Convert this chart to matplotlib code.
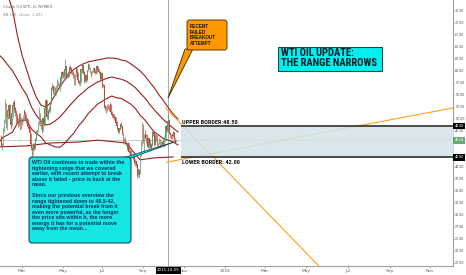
import numpy as np
import pandas as pd
import matplotlib.pyplot as plt
from matplotlib import font_manager
from matplotlib.patches import FancyBboxPatch, Polygon

### Data (daily WTI bars Jan 28 - Oct 20 2015)
holidays_2015 = ['2015-02-16', '2015-04-03', '2015-05-25', '2015-07-03', '2015-09-07']
first_open = 46.2
closes = [44.45, 44.53, 48.24,
          49.57, 53.05, 48.45, 50.48, 51.69, 52.86, 50.02, 48.84, 51.21, 52.78, 53.53, 52.14, 51.16, 50.81, 49.45, 49.25, 50.99, 48.17, 49.76,
          49.59, 50.52, 51.53, 50.76, 49.61, 50.00, 48.29, 48.17, 47.05, 44.84, 43.88, 43.46, 44.66, 43.96, 45.72, 47.45, 47.51, 49.21, 51.43, 48.87, 48.68, 47.60,
          50.09, 49.14, 52.14, 53.98, 50.42, 50.79, 51.64, 51.91, 53.29, 56.39, 56.71, 55.74, 56.38, 55.26, 56.16, 57.74, 57.15, 56.99, 57.06, 58.58, 59.63,
          59.15, 58.93, 60.40, 60.93, 58.94, 59.39, 59.25, 60.75, 60.50, 59.88, 59.69, 59.43, 57.26, 58.98, 60.72, 59.72, 58.03, 57.51, 57.68, 60.30,
          60.20, 61.26, 59.64, 58.00, 59.13, 58.14, 60.14, 61.43, 60.77, 59.96, 59.52, 59.97, 60.45, 60.45, 59.61, 59.68, 61.01, 60.27, 59.70, 59.63, 58.33, 59.47,
          56.96, 56.93, 52.53, 52.33, 51.65, 52.78, 52.74, 52.20, 53.04, 51.41, 50.91, 50.89, 50.15, 50.36, 49.19, 48.45, 48.14, 47.39, 47.98, 48.79, 48.52, 47.12,
          45.17, 45.74, 45.15, 44.66, 43.87, 44.96, 43.08, 43.30, 42.23, 42.50, 41.87, 42.62, 40.80, 41.14, 40.45, 38.24, 39.31, 38.60, 42.56, 45.22, 49.20,
          45.41, 46.25, 46.75, 46.05, 45.94, 44.15, 45.92, 44.63, 44.00, 44.59, 47.15, 46.90, 44.68, 46.68, 46.66, 44.48, 44.91, 45.70, 44.43, 45.23, 45.09,
          44.74, 45.54, 46.26, 48.53, 47.81, 49.43, 49.63, 47.10, 46.66, 46.64, 46.38, 47.26, 45.89, 45.54]
highs = [46.7, 44.9, 48.3,
         49.9, 54.2, 53.4, 51.3, 52.5, 53.2, 53.1, 50.2, 51.7, 53.2, 53.9, 53.9, 52.4, 51.8, 51.0, 50.2, 51.3, 51.2, 50.5,
         50.2, 50.9, 52.0, 51.6, 51.0, 50.5, 50.0, 48.8, 48.2, 47.1, 45.0, 44.3, 44.9, 45.0, 46.0, 47.8, 48.0, 49.5, 52.5, 51.3, 49.6, 48.8,
         50.5, 51.0, 52.5, 54.2, 54.0, 51.3, 52.0, 52.8, 53.6, 56.6, 57.4, 57.1, 56.8, 56.7, 57.0, 58.4, 58.0, 57.6, 57.4, 58.8, 59.9,
         59.9, 59.7, 60.6, 62.6, 61.0, 59.6, 59.9, 61.0, 61.2, 60.6, 60.3, 60.0, 59.6, 59.3, 60.8, 60.7, 59.8, 58.1, 58.0, 60.4,
         60.8, 61.6, 61.3, 60.0, 59.3, 59.2, 60.3, 61.6, 61.4, 60.8, 59.9, 60.3, 60.7, 60.8, 60.4, 60.3, 61.2, 61.0, 60.4, 60.0, 59.6, 59.7,
         59.4, 57.3, 56.5, 53.0, 52.7, 53.2, 53.2, 53.0, 53.5, 53.2, 51.6, 51.0, 51.0, 50.6, 50.4, 49.5, 48.7, 48.1, 48.2, 49.0, 49.3, 48.6,
         47.2, 46.0, 46.3, 45.4, 44.9, 45.2, 45.0, 43.6, 43.5, 42.8, 42.6, 42.9, 42.8, 41.6, 41.3, 40.4, 39.8, 39.5, 42.9, 45.5, 49.3,
         49.0, 46.8, 48.0, 46.8, 46.9, 46.3, 46.0, 45.9, 44.8, 44.9, 47.5, 47.6, 47.0, 46.9, 46.9, 46.7, 45.3, 46.1, 45.8, 45.5, 45.5,
         45.3, 45.7, 46.6, 48.8, 49.0, 49.6, 50.9, 49.5, 47.2, 46.9, 47.1, 47.5, 47.1, 46.1]
lows = [44.3, 43.6, 44.4,
        47.3, 49.1, 48.1, 47.8, 50.1, 51.1, 49.6, 48.0, 48.6, 50.5, 52.0, 51.5, 50.6, 48.8, 49.1, 48.4, 48.5, 47.7, 47.9,
        48.8, 49.4, 50.0, 50.2, 49.1, 49.0, 48.0, 47.4, 46.7, 44.5, 43.6, 42.0, 42.4, 43.5, 43.8, 45.6, 46.9, 47.3, 48.7, 48.5, 48.0, 47.1,
        47.6, 48.6, 49.0, 51.5, 50.1, 49.8, 50.1, 51.2, 51.5, 53.1, 56.1, 55.3, 55.3, 55.0, 55.0, 56.0, 56.9, 56.5, 55.9, 56.9, 58.4,
        58.6, 58.5, 58.7, 60.2, 58.6, 58.5, 58.7, 58.8, 60.0, 59.4, 59.2, 58.5, 57.1, 57.0, 58.7, 59.4, 57.5, 57.1, 56.9, 57.6,
        59.6, 59.8, 59.4, 57.4, 57.8, 57.8, 58.0, 60.1, 60.4, 59.6, 58.7, 59.3, 59.8, 59.9, 59.4, 59.3, 59.6, 59.9, 59.4, 59.3, 57.9, 58.2,
        56.5, 56.6, 52.3, 51.9, 51.2, 51.6, 52.1, 51.6, 51.4, 51.0, 50.5, 50.2, 49.8, 49.5, 49.0, 48.1, 47.7, 47.1, 47.0, 47.8, 48.2, 46.7,
        44.9, 44.8, 44.8, 44.3, 43.5, 43.6, 42.9, 42.0, 42.0, 41.9, 41.4, 41.6, 40.6, 40.2, 39.9, 37.75, 38.0, 38.0, 38.5, 42.3, 44.3,
        44.9, 43.2, 45.8, 45.0, 45.0, 44.0, 43.7, 44.2, 43.8, 43.6, 44.3, 46.5, 44.4, 44.6, 45.4, 44.3, 43.9, 44.7, 44.2, 44.1, 44.6,
        44.4, 44.2, 45.2, 46.1, 47.2, 47.3, 49.0, 46.8, 46.0, 45.9, 45.9, 46.3, 45.6, 45.1]

# Bollinger bands, read every 5 bars (bar 0 = 2015-03-02)
band_bars = list(range(-25, 170, 5))
bb_upper = [82.0, 78.8, 75.8, 72.7, 67.5, 63.3, 60.2, 57.1, 54.6, 52.9, 52.5, 53.3, 55.0, 56.7, 58.1, 59.4, 60.4, 61.0, 61.5, 61.9,
            62.1, 62.3, 62.5, 62.7, 62.7, 62.6, 62.3, 62.1, 61.5, 60.8, 60.0, 59.0, 57.7, 56.5, 55.0, 53.75, 52.3, 51.0, 50.0]
bb_basis = [63.5, 62.5, 61.25, 60.0, 58.3, 56.5, 55.0, 52.5, 50.8, 49.6, 48.75, 48.95, 49.6, 50.4, 51.5, 52.7, 53.75, 54.8, 55.6, 56.5,
            57.1, 57.7, 58.1, 58.5, 58.75, 58.5, 58.3, 57.9, 57.3, 56.5, 55.4, 54.4, 53.1, 51.9, 50.8, 49.8, 48.95, 48.1, 47.3]
bb_lower = [45.0, 46.2, 46.7, 47.3, 49.1, 49.7, 49.8, 47.9, 47.0, 46.3, 45.0, 44.6, 44.2, 44.1, 44.9, 46.0, 47.1, 48.6, 49.7, 51.1,
            52.1, 53.1, 53.7, 54.3, 54.8, 54.4, 54.3, 53.7, 53.1, 52.2, 50.8, 49.8, 48.5, 47.3, 46.6, 45.85, 45.6, 45.2, 44.6]
extra_bars = [-23, 5, 30, 60, 80, 110, 125, 140, 160]
extra_line = [44.2, 44.4, 45.0, 45.2, 45.6, 45.0, 41.5, 41.9, 42.1]

upper_border = 48.50
lower_border = 42.00
last_price = 45.54
range_start = '2015-10-28'
fall_line = [('2015-10-06', 52.3), ('2016-05-20', 19.2)]
rise_line = [('2015-10-07', 41.0), ('2016-12-05', 52.3)]
crosshair_date = '2015-10-09'

month_ticks = ['2015-03-02', '2015-05-01', '2015-07-01', '2015-09-01', '2015-11-02', '2016-01-01',
               '2016-03-01', '2016-05-02', '2016-07-01', '2016-09-01', '2016-11-01']
month_labels = ['Mar', 'May', 'Jul', 'Sep', 'Nov', '2016', 'Mar', 'May', 'Jul', 'Sep', 'Nov']
price_ticks = np.arange(20, 72.6, 2.5)
hidden_ticks = [42.5, 45.0]   # covered by the price labels

### Fonts
names = {f.name for f in font_manager.fontManager.ttflist}
narrow = next((n for n in ['Liberation Sans Narrow', 'DejaVu Sans Condensed', 'Roboto Condensed']
               if n in names), 'DejaVu Sans')
sans = 'Liberation Sans' if 'Liberation Sans' in names else 'DejaVu Sans'

### Trading-bar axis
cal = pd.bdate_range('2015-01-28', '2016-12-30')
cal = cal[~cal.isin(pd.to_datetime(holidays_2015))]
origin = cal.get_loc(pd.Timestamp('2015-03-02'))

def bar(d):
    return cal.get_indexer([pd.Timestamp(d)])[0] - origin

### Plot
W, H = 466, 275
fig = plt.figure(figsize=(W / 100, H / 100), dpi=100)
ax = fig.add_axes([0, 9 / H, 453 / W, 266 / H])
ax.set_xlim(-23.3, 456.1)
ax.set_ylim(19.375, 74.79)

c = np.array(closes)
o = np.r_[first_open, c[:-1]]
x = np.arange(len(c)) - origin
col = np.where(c >= o, '#4f9a6a', '#c8463c')
ax.vlines(x, lows, highs, colors=col, lw=0.5, zorder=3)
ax.bar(x, np.abs(c - o) + 0.08, bottom=np.minimum(o, c), width=0.75, color=col, lw=0, zorder=3)

for band in (bb_upper, bb_basis, bb_lower):
    ax.plot(band_bars, band, color='#962020', lw=0.8, zorder=2)
ax.plot(extra_bars, extra_line, color='#962020', lw=0.8, zorder=2)

ax.axhline(last_price, color='#b9d5c2', lw=0.7, zorder=1)
ax.axvline(bar(crosshair_date), color='#9a9a9a', lw=0.6, zorder=1)

for line in (fall_line, rise_line):
    ax.plot([bar(d) for d, _ in line], [p for _, p in line], color='#ff9f1a', lw=0.8, zorder=2)

x0 = bar(range_start)
ax.fill_between([x0, 470], lower_border, upper_border, color='#d3e2e8', alpha=0.85, lw=0, zorder=4)
ax.hlines([upper_border, lower_border], x0, 470, color='#2e2e2e', lw=1.2, zorder=5)
ax.text(x0 + 1.5, upper_border + 0.35, f'UPPER BORDER:{upper_border:.2f}', fontsize=4.5, fontweight='bold',
        family=narrow, color='#1a1a1a', va='bottom', zorder=6)
ax.text(x0 + 1.5, lower_border - 0.45, f'LOWER BORDER: {lower_border:.2f}', fontsize=4.5, fontweight='bold',
        family=narrow, color='#1a1a1a', va='top', zorder=6)

# axes styling
for s in ('top', 'left'):
    ax.spines[s].set_visible(False)
for s in ('right', 'bottom'):
    ax.spines[s].set_color('#a0a0a0')
    ax.spines[s].set_linewidth(0.8)
ax.yaxis.tick_right()
ax.set_yticks(price_ticks)
ax.set_yticklabels(['' if t in hidden_ticks else f'{t:.2f}' for t in price_ticks], family=narrow)
ax.set_xticks([bar(d) for d in month_ticks])
ax.set_xticklabels(month_labels)
ax.tick_params(axis='y', labelsize=3.0, colors='#555555', length=1.0, width=0.4, pad=0.6)
ax.tick_params(axis='x', labelsize=3.2, colors='#666666', length=1.5, width=0.4, pad=1)

# price labels on the right scale
for val, fc in ((upper_border, 'black'), (last_price, '#66a877'), (lower_border, 'black')):
    ax.annotate(f'{val:.2f}', xy=(1, val), xycoords=('axes fraction', 'data'), xytext=(1.0, 0),
                textcoords='offset points', ha='left', va='center', fontsize=3.0, family=narrow, color='white',
                bbox=dict(boxstyle='square,pad=0.3', fc=fc, ec='none'), annotation_clip=False, zorder=10)
ax.annotate(crosshair_date, xy=(bar(crosshair_date), 0), xycoords=('data', 'axes fraction'), xytext=(0, -3.2),
            textcoords='offset points', ha='center', va='center', fontsize=2.8, color='white',
            bbox=dict(boxstyle='square,pad=0.35', fc='black', ec='none'), annotation_clip=False, zorder=10)

# overlay in pixel units for the drawn callouts
ov = fig.add_axes([0, 0, 1, 1], zorder=5)
ov.set_xlim(0, W)
ov.set_ylim(H, 0)
ov.axis('off')

ov.text(3, 7, 'Crude Oil WTI, D, NYMEX', fontsize=2.9, color='#666666', va='center')
ov.text(3, 15, 'BB (46, close, 1.25)', fontsize=2.9, color='#888888', va='center')

ov.add_patch(Polygon([(185, 49), (193, 49), (168, 98)], closed=True, fc='#ff9800', ec='#3a2a00', lw=0.6))
ov.add_patch(FancyBboxPatch((187, 20), 40, 30, boxstyle='round,pad=0,rounding_size=2.5',
                            fc='#ff9800', ec='#3a2a00', lw=0.6))
ov.text(190, 24.5, 'RECENT\nFAILED\nBREAKOUT\nATTEMPT', fontsize=3.3, fontweight='bold', family=sans,
        color='#111111', va='top', ha='left', linespacing=1.1)

ov.add_patch(FancyBboxPatch((278, 47), 104, 24, boxstyle='square,pad=0', fc='#00f0f0', ec='#23474f', lw=0.8))
ov.text(281, 48.3, 'WTI OIL UPDATE:\nTHE RANGE NARROWS', fontsize=7.6, fontweight='bold', family=narrow,
        color='#0a1a22', va='top', ha='left', linespacing=0.98)

ov.add_patch(Polygon([(123, 158), (131, 158), (177, 141)], closed=True, fc='#14e6e6', ec='#1d4a52', lw=0.6))
ov.add_patch(FancyBboxPatch((29, 157), 102, 86, boxstyle='round,pad=0,rounding_size=3',
                            fc='#14e6e6', ec='#1d4a52', lw=0.8))
body = ('WTI Oil continues to trade within the\n'
        'tightening range that we covered\n'
        'earlier, with recent attempt to break\n'
        'above it failed - price is back at the\n'
        'mean.\n\n'
        'Since our previous overview the\n'
        'range tightened down to 48.5-42,\n'
        'making the potential break from it\n'
        'even more powerful, as the longer\n'
        'the price sits within it, the more\n'
        'energy it has for a potential move\n'
        'away from the mean...')
ov.text(32, 160.5, body, fontsize=3.8, fontweight='bold', family=sans, color='#0c2d57',
        va='top', ha='left', linespacing=1.12)

fig.savefig('out.png', dpi=100)
